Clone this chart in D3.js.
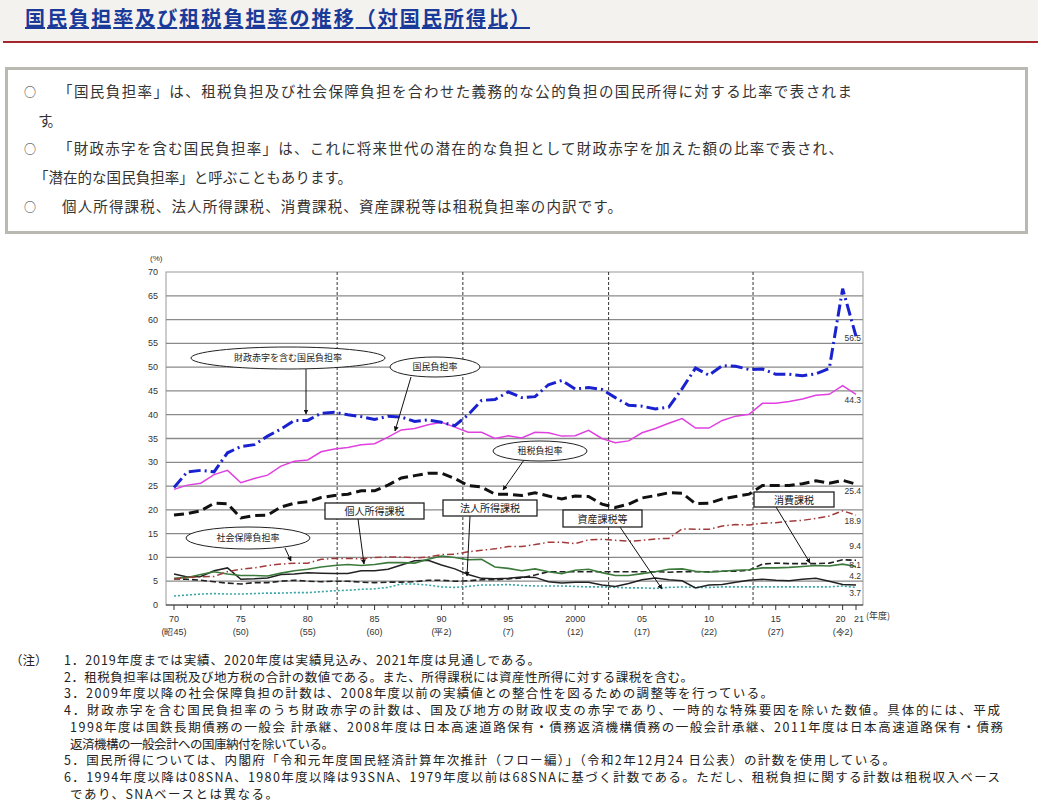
<!DOCTYPE html>
<html><head><meta charset="utf-8">
<script src="https://cdn.jsdelivr.net/npm/d3@7"></script>
<style>body{margin:0;background:#fff;}svg{display:block;font-family:"Noto Sans CJK JP","Noto Sans",sans-serif;}</style>
</head><body><svg id="c" width="1038" height="810"></svg>
<script>
const years = d3.range(1970, 2022);
const deficitBurden = [24.7,28,28.3,28,32,33.3,33.7,35.5,37,38.8,38.8,40.3,40.5,40,39.6,39,39.7,39.5,38.6,38.9,38.4,37.7,40,43,43.2,44.8,43.6,43.8,46.3,47.2,45.4,45.7,45.3,43.6,42,41.8,41.2,41.6,45.5,49.8,48.3,50.3,50.2,49.5,49.6,48.5,48.5,48.2,48.6,49.7,66.5,56.5];
const nationalBurden = [24.3,25.2,25.6,27.4,28.3,25.7,26.6,27.3,29.2,30.2,30.5,32.2,32.8,33.1,33.7,33.9,35.3,36.8,37.1,37.9,38.4,37.4,36.3,36.3,35,35.6,35.1,36.3,36.2,35.5,35.6,36.7,35,34.1,34.5,36.2,37.1,38.2,39.2,37.2,37.2,38.8,39.7,40.1,42.4,42.4,42.8,43.3,44.1,44.3,46.1,44.3];
const taxBurden = [18.9,19.2,19.8,21.4,21.3,18.3,18.8,18.9,20.6,21.4,21.7,22.6,23,23.3,24,24,25.2,26.7,27.2,27.7,27.7,26.6,25.1,24.8,23.3,23.3,23,23.6,22.9,22.3,22.9,22.8,21.2,20.5,21.2,22.5,23,23.6,23.5,21.3,21.4,22.3,22.8,23.3,25.1,25.1,25.1,25.5,26.1,25.6,26.2,25.4];
const socialBurden = [5.4,5.8,5.9,6,7,7.5,7.8,8.3,8.6,8.8,8.8,9.6,9.8,9.8,9.7,10,10.1,10.1,9.9,10.1,10.6,10.7,11.2,11.5,11.8,12.3,12.3,12.7,13.2,13.2,12.9,13.7,13.8,13.6,13.4,13.6,13.9,14,16,15.9,15.9,16.6,16.9,16.8,17.2,17.3,17.6,17.8,18.2,18.7,19.8,18.9];
const personalIncomeTax = [5.6,5.8,6.4,7,6.5,6.2,6.2,6.1,6.7,7.2,7.5,8,8.3,8.5,8.3,8.5,8.9,8.9,8.8,9.6,10.3,10,9.5,9.6,8,7.7,7.2,7.6,7,6.6,7.3,7.5,6.8,6.2,6.2,6.6,7,7.5,7.6,7.1,6.9,7.1,7.3,7.4,7.8,7.8,7.9,8.1,8.3,8.2,8.6,8.1];
const corporateTax = [6.5,5.9,6,7.2,7.8,5.4,5.5,5.7,6.4,6.5,6.8,6.7,6.6,6.6,7.2,7.2,7.5,8.4,9.3,9.4,8.4,7.6,6.4,5.6,5.5,5.6,5.9,5.8,4.9,4.6,4.8,4.8,4.2,3.9,4.5,5.3,5.7,5.3,5.1,3.6,4.2,4.3,4.8,5.2,5.4,5.2,5.1,5.4,5.6,5,4.3,4.2];
const consumptionTax = [5.5,5.4,5.2,4.9,4.6,4.4,4.7,4.7,5,5.2,5,4.9,5,5,4.8,4.7,4.8,4.8,4.9,5.2,5.2,5,5.1,5.3,5.3,5.5,5.7,6.3,7,7,7,7,7,7,7,7,7,6.9,7,7,7,7.1,7.1,7.3,8.6,8.8,8.7,8.7,8.7,8.8,9.5,9.4];
const assetTax = [1.9,2.1,2.3,2.4,2.3,2.3,2.4,2.5,2.5,2.6,2.6,2.8,3,3.1,3.3,3.4,3.7,4.4,4.4,4.2,3.8,3.7,3.9,4.2,4.2,4.3,4.1,4,4,4,3.9,3.8,3.8,3.7,3.6,3.6,3.5,3.7,3.8,3.7,3.7,3.8,3.8,3.8,3.8,3.8,3.8,3.8,3.8,3.8,4,3.7];
const yTicks = d3.range(0, 71, 5);
const xMajor = [1970,1975,1980,1985,1990,1995,2000,2005,2010,2015,2020,2021];
const xMajorLabels = ["70","75","80","85","90","95","2000","05","10","15","20","21"];
const xEraLabels = ["(昭45)","(50)","(55)","(60)","(平2)","(7)","(12)","(17)","(22)","(27)","(令2)",""];
const dividers = [1982.2,1991.6,2002.5,2013.3];
const endLabels = ["56.5","44.3","25.4","18.9","9.4","8.1","4.2","3.7"];

const svg = d3.select("#c");
svg.append("rect").attr("x",0).attr("y",0).attr("width",1038).attr("height",42).attr("fill","#f4f2ee");
svg.append("rect").attr("x",3).attr("y",41).attr("width",1035).attr("height",2).attr("fill","#a3272d");
svg.append("text").attr("x",25).attr("y",26).attr("font-size",20).attr("font-weight","bold").attr("fill","#1a3a9a")
  .attr("text-decoration","underline").attr("textLength",505).attr("lengthAdjust","spacing").text("国民負担率及び租税負担率の推移（対国民所得比）");
svg.append("rect").attr("x",6.5).attr("y",68.5).attr("width",1020).attr("height",164).attr("fill","#fff").attr("stroke","#b9b9b1").attr("stroke-width",3);
const boxLines = [[true,58,794,"「国民負担率」は、租税負担及び社会保障負担を合わせた義務的な公的負担の国民所得に対する比率で表されま"],[false,38,24,"す。"],
 [true,58,785,"「財政赤字を含む国民負担率」は、これに将来世代の潜在的な負担として財政赤字を加えた額の比率で表され、"],[false,34,318,"「潜在的な国民負担率」と呼ぶこともあります。"],
 [true,62,560,"個人所得課税、法人所得課税、消費課税、資産課税等は租税負担率の内訳です。"]];
boxLines.forEach((d,i)=>{
  const yy = 97+i*28.7;
  if(d[0]) svg.append("text").attr("x",24).attr("y",yy).attr("font-size",12).attr("fill","#333").text("○");
  svg.append("text").attr("x",d[1]).attr("y",yy).attr("font-size",14.5).attr("fill","#333").attr("textLength",d[2]).attr("lengthAdjust","spacing").text(d[3]);
});

const x = d3.scaleLinear().domain([1970,2021]).range([174,856]);
const y = d3.scaleLinear().domain([0,70]).range([605,272]);
const g = svg.append("g").attr("font-family","Liberation Sans, Arial, sans-serif");
g.append("rect").attr("x",166).attr("y",272).attr("width",697).attr("height",333).attr("fill","#fff").attr("stroke","#999");
yTicks.forEach(t=>{
  if(t>0&&t<70) g.append("line").attr("x1",166).attr("x2",863).attr("y1",y(t)).attr("y2",y(t)).attr("stroke","#8a8a8a").attr("stroke-width",1.3);
  g.append("text").attr("x",158).attr("y",y(t)+3).attr("text-anchor","end").attr("font-size",9).attr("fill","#333").text(t);
});
g.append("text").attr("x",150).attr("y",261).attr("font-size",8).attr("fill","#333").text("(%)");
dividers.forEach(d=>g.append("line").attr("x1",x(d)).attr("x2",x(d)).attr("y1",272).attr("y2",605).attr("stroke","#333").attr("stroke-dasharray","3,2"));
g.append("line").attr("x1",166).attr("x2",863).attr("y1",605).attr("y2",605).attr("stroke","#333");
years.forEach(yr=>g.append("line").attr("x1",x(yr)).attr("x2",x(yr)).attr("y1",605).attr("y2",xMajor.includes(yr)?610:608).attr("stroke","#333"));
xMajor.forEach((yr,i)=>{
  g.append("text").attr("x",x(yr)+(yr===2020?-2:yr===2021?3:0)).attr("y",622).attr("text-anchor","middle").attr("font-size",9).attr("fill","#333").text(xMajorLabels[i]);
  g.append("text").attr("x",x(yr)).attr("y",635).attr("text-anchor","middle").attr("font-size",9).attr("fill","#333").text(xEraLabels[i]);
});
g.append("text").attr("x",866).attr("y",619).attr("font-size",9).attr("fill","#333").attr("font-family","Noto Sans CJK JP").text("(年度)");

const line = d3.line().x((d,i)=>x(years[i])).y(d=>y(d));
const series = [
 [assetTax,"#3aa5a5",1.6,"2,2"],
 [consumptionTax,"#222",1.6,"6,3"],
 [corporateTax,"#222",1.5,null],
 [personalIncomeTax,"#3c7a3c",1.6,null],
 [socialBurden,"#a33a3a",1.5,"7,3,1.5,3"],
 [taxBurden,"#111",3,"10,5"],
 [nationalBurden,"#e040e0",1.5,null],
 [deficitBurden,"#1a22d0",3,"12,4,2,4"]];
series.forEach(s=>g.append("path").attr("d",line(s[0])).attr("fill","none").attr("stroke",s[1]).attr("stroke-width",s[2]).attr("stroke-dasharray",s[3]));
const endY = [341,403,494,524,549,568,579,596];
endLabels.forEach((t,i)=>g.append("text").attr("x",861).attr("y",endY[i]).attr("text-anchor","end").attr("font-size",8.5).attr("fill","#333").text(t));

const defs = svg.append("defs");
defs.append("marker").attr("id","ah").attr("viewBox","0 0 10 10").attr("refX",9).attr("refY",5).attr("markerWidth",5).attr("markerHeight",5).attr("orient","auto")
  .append("path").attr("d","M0,0L10,5L0,10z").attr("fill","#111");
const cg = svg.append("g").attr("font-size",9).attr("fill","#222");
const ells = [["財政赤字を含む国民負担率",288,358,97,11,[306,369],[306,414]],["国民負担率",435,367,45,10,[411,377],[395,431]],
  ["租税負担率",540,451,47,10,[524,460],[503,490]],["社会保障負担率",248,538,62,11,[285,548],[291,561]]];
ells.forEach(e=>{
  cg.append("line").attr("x1",e[5][0]).attr("y1",e[5][1]).attr("x2",e[6][0]).attr("y2",e[6][1]).attr("stroke","#111").attr("marker-end","url(#ah)");
  cg.append("ellipse").attr("cx",e[1]).attr("cy",e[2]).attr("rx",e[3]).attr("ry",e[4]).attr("fill","#fff").attr("stroke","#222");
  cg.append("text").attr("x",e[1]).attr("y",e[2]+3).attr("text-anchor","middle").text(e[0]);
});
const rects = [["個人所得課税",325,503,99,16,[358,519],[364,564]],["法人所得課税",443,500,94,16,[470,516],[467,576]],
  ["資産課税等",563,510,79,17,[620,527],[662,589]],["消費課税",754,492,80,15,[776,507],[810,563]]];
rects.forEach(r=>{
  cg.append("line").attr("x1",r[5][0]).attr("y1",r[5][1]).attr("x2",r[6][0]).attr("y2",r[6][1]).attr("stroke","#111").attr("marker-end","url(#ah)");
  cg.append("rect").attr("x",r[1]).attr("y",r[2]).attr("width",r[3]).attr("height",r[4]).attr("fill","#fff").attr("stroke","#222").attr("stroke-width",1.3);
  cg.append("text").attr("x",r[1]+r[3]/2).attr("y",r[2]+r[4]/2+4).attr("text-anchor","middle").attr("font-size",10).text(r[0]);
});

const notes = [[64,476,"1．2019年度までは実績、2020年度は実績見込み、2021年度は見通しである。"],
 [64,629,"2．租税負担率は国税及び地方税の合計の数値である。また、所得課税には資産性所得に対する課税を含む。"],
 [64,709,"3．2009年度以降の社会保障負担の計数は、2008年度以前の実績値との整合性を図るための調整等を行っている。"],
 [64,936,"4．財政赤字を含む国民負担率のうち財政赤字の計数は、国及び地方の財政収支の赤字であり、一時的な特殊要因を除いた数値。具体的には、平成"],
 [70,933,"1998年度は国鉄長期債務の一般会 計承継、2008年度は日本高速道路保有・債務返済機構債務の一般会計承継、2011年度は日本高速道路保有・債務"],
 [70,264,"返済機構の一般会計への国庫納付を除いている。"],
 [64,831,"5．国民所得については、内閣府「令和元年度国民経済計算年次推計（フロー編）」（令和2年12月24 日公表）の計数を使用している。"],
 [64,936,"6．1994年度以降は08SNA、1980年度以降は93SNA、1979年度以前は68SNAに基づく計数である。ただし、租税負担に関する計数は租税収入ベース"],
 [70,208,"であり、SNAベースとは異なる。"]];
const nt = svg.append("g").attr("font-size",12.5).attr("fill","#222");
nt.append("text").attr("x",10).attr("y",665).text("（注）");
notes.forEach((n,i)=>nt.append("text").attr("x",n[0]).attr("y",665+i*16.7).attr("textLength",n[1]).attr("lengthAdjust","spacing").text(n[2]));
</script></body></html>
